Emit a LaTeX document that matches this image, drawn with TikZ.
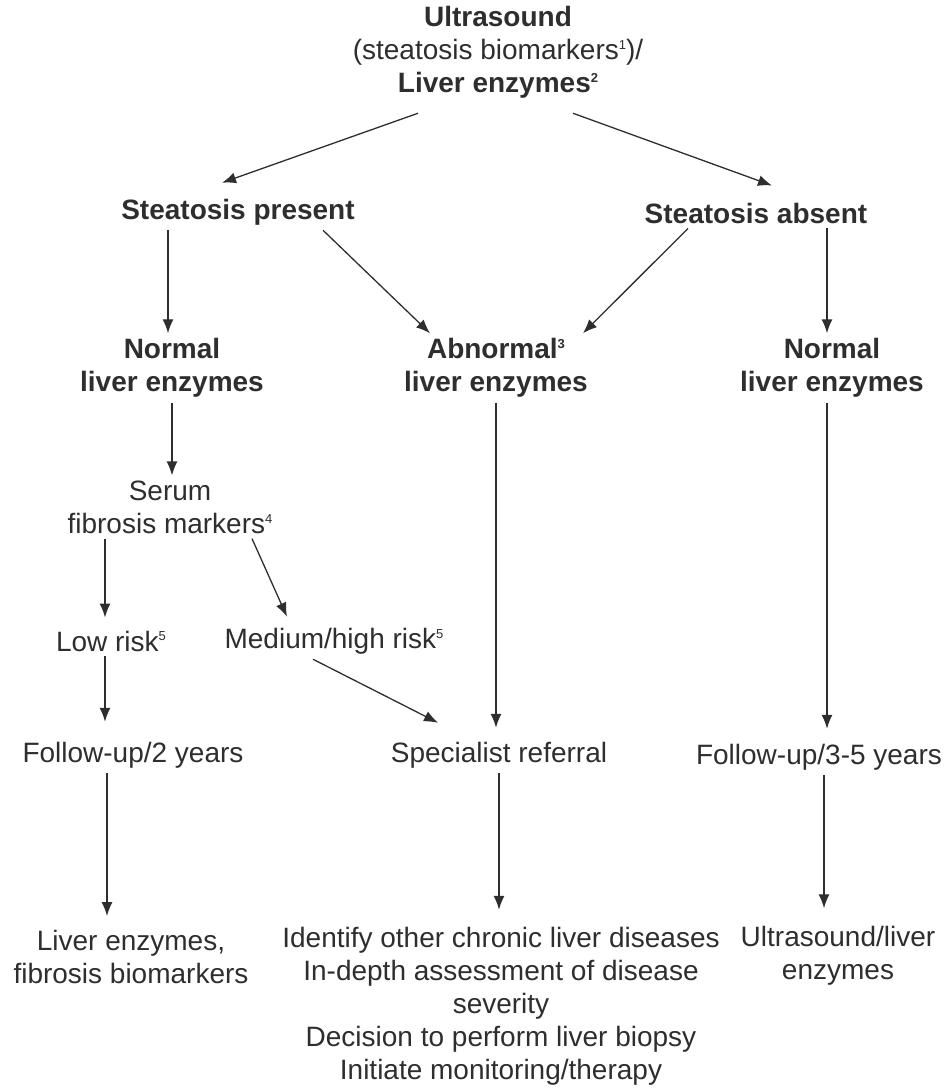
\documentclass[tikz,border=0pt]{standalone}
\usepackage{fontspec}
\setmainfont{Liberation Sans}
\usetikzlibrary{arrows.meta}
\definecolor{ink}{HTML}{2E2E2E}
\newcommand{\fnum}[1]{\raisebox{0.36em}{\fontsize{13}{13}\selectfont #1}}
\tikzset{
  box/.style={align=center, inner sep=5pt, text=ink, font=\fontsize{28}{33}\selectfont},
  head/.style={box, font=\fontsize{28}{33}\selectfont\bfseries},
  arr/.style={-{Latex[length=14pt,width=11pt]}, line width=1.3pt, draw=ink}
}
\begin{document}
\begin{tikzpicture}[x=1pt, y=-1pt]
    \useasboundingbox (0,0) rectangle (947,1089);
    % top level
    \node[head] (top) at (498,52) {Ultrasound\\{\mdseries (steatosis biomarkers\fnum{1})/}\\Liver enzymes\fnum{2}};
    \node[head] (SP) at (238,212) {Steatosis present};
    \node[head] (SA) at (756,213) {Steatosis absent};
    % enzymes
    \node[head] (NL) at (172,368) {Normal\\liver enzymes};
    \node[head] (AB) at (496,368) {Abnormal\fnum{3}\\liver enzymes};
    \node[head] (NR) at (832,368) {Normal\\liver enzymes};
    % fibrosis branch
    \node[box] (serum) at (170,507) {Serum\\fibrosis markers\fnum{4}};
    \node[box] (low) at (111,641) {Low risk\fnum{5}};
    \node[box] (med) at (334,641) {Medium/high risk\fnum{5}};
    % follow-up row
    \node[box] (fu2) at (133,755) {Follow-up/2 years};
    \node[box] (spec) at (499,755) {Specialist referral};
    \node[box] (fu35) at (819,757) {Follow-up/3-5 years};
    % bottom row
    \node[box] (le) at (131,957) {Liver enzymes,\\fibrosis biomarkers};
    \node[box] (tasks) at (501,1006) {Identify other chronic liver diseases\\In-depth assessment of disease\\severity\\Decision to perform liver biopsy\\Initiate monitoring/therapy};
    \node[box] (us) at (838,956) {Ultrasound/liver\\enzymes};

    \draw[arr] ([xshift=-80,yshift=-10]top.south) -- ([xshift=-16,yshift=11]SP.north);
    \draw[arr] ([xshift=75,yshift=-10]top.south) -- ([xshift=16,yshift=12]SA.north);
    \draw[arr] ([xshift=-70]SP.south) -- ([xshift=-70]SP.south |- NL.north);
    \draw[arr] ([xshift=85]SP.south) -- ([xshift=-66]AB.north);
    \draw[arr] ([xshift=-68]SA.south) -- ([xshift=87]AB.north);
    \draw[arr] ([xshift=71]SA.south) -- ([xshift=71]SA.south |- NR.north);
    \draw[arr] (NL.south) -- (NL.south |- serum.north);
    \draw[arr] (AB.south) -- ([yshift=9]AB.south |- spec.north);
    \draw[arr] ([xshift=-5]NR.south) -- ([xshift=-5,yshift=10]NR.south |- fu35.north);
    \draw[arr] ([xshift=-6]low.north |- serum.south) -- ([xshift=-6,yshift=8]low.north);
    \draw[arr] ([xshift=82]serum.south) -- ([xshift=-47,yshift=6]med.north);
    \draw[arr] ([xshift=-6]low.south) -- ([xshift=-6,yshift=15]low.south |- fu2.north);
    \draw[arr] ([xshift=-21]med.south) -- ([xshift=-61,yshift=14]spec.north);
    \draw[arr] ([xshift=-26]fu2.south) -- ([xshift=-26,yshift=9]fu2.south |- le.north);
    \draw[arr] (spec.south) -- ([yshift=12]spec.south |- tasks.north);
    \draw[arr] ([xshift=5]fu35.south) -- ([xshift=5,yshift=13]fu35.south |- us.north);
\end{tikzpicture}
\end{document}
